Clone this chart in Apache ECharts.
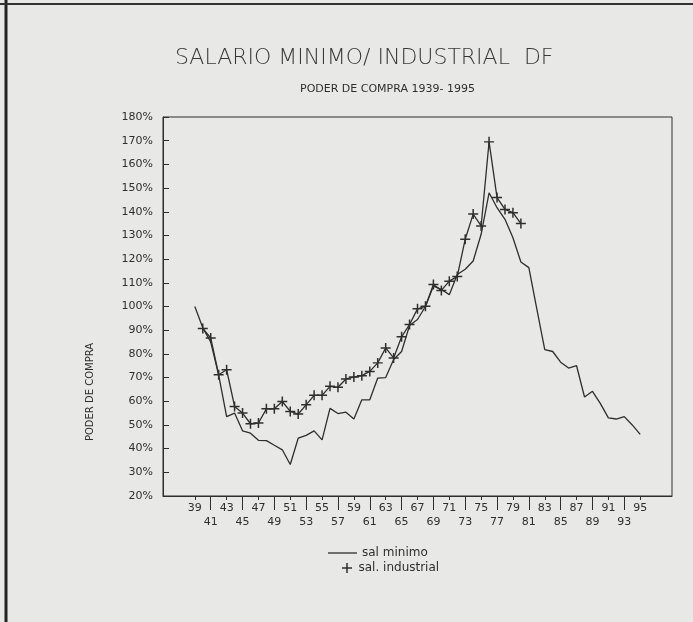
<!DOCTYPE html>
<html>
<head>
<meta charset="utf-8">
<script src="https://cdn.jsdelivr.net/npm/echarts@6/dist/echarts.min.js"></script>
<style>
  html, body { margin: 0; padding: 0; background: #e8e8e6; }
  #chart { width: 693px; height: 622px; }
</style>
</head>
<body>
<div id="chart"></div>
<script>
  // años 1939 - 1995
  var years = [1939, 1940, 1941, 1942, 1943, 1944, 1945, 1946, 1947, 1948, 1949, 1950, 1951, 1952, 1953, 1954, 1955, 1956, 1957, 1958, 1959, 1960, 1961, 1962, 1963, 1964, 1965, 1966, 1967, 1968, 1969, 1970, 1971, 1972, 1973, 1974, 1975, 1976, 1977, 1978, 1979, 1980, 1981, 1982, 1983, 1984, 1985, 1986, 1987, 1988, 1989, 1990, 1991, 1992, 1993, 1994, 1995]
  var salMinimo = [100, 91, 85, 71, 53.5, 55, 47.5, 46.5, 43.5, 43.4, 41.4, 39.5, 33.3, 44.4, 45.6, 47.5, 43.7, 57, 54.8, 55.4, 52.5, 60.6, 60.6, 69.8, 70, 77.6, 81, 92, 94.5, 100, 108.6, 107.2, 105, 113.5, 115.7, 119.2, 130.5, 148, 141.7, 136.8, 129, 118.8, 116.4, 99, 81.8, 81, 76.5, 74, 75, 61.8, 64.2, 59, 53, 52.5, 53.5, 50, 46]
  var salIndustrial = [null, 90.7, 86.7, 71.2, 73.3, 57.8, 55, 50.5, 50.8, 56.8, 56.8, 59.9, 55.7, 54.6, 58.5, 62.5, 62.5, 66.3, 65.9, 69.4, 70.2, 70.8, 72.6, 76.2, 82.5, 78.3, 87.2, 92.4, 99, 100.1, 109.3, 106.8, 110.7, 112.7, 128.4, 139, 134, 169.5, 146, 141, 139.6, 135, null, null, null, null, null, null, null, null, null, null, null, null, null, null, null]
  // etiquetas del eje x en dos renglones
  var topRowYears = [1939, 1943, 1947, 1951, 1955, 1959, 1963, 1967, 1971, 1975, 1979, 1983, 1987, 1991, 1995]
  var bottomRowYears = [1941, 1945, 1949, 1953, 1957, 1961, 1965, 1969, 1973, 1977, 1981, 1985, 1989, 1993]

  var ink = '#2e2e2e'
  var font = 'DejaVu Sans'
  var plusIcon = 'path://M4,0h1.4v4h4v1.4h-4v4h-1.4v-4h-4v-1.4h4z'

  function pairs(vals) {
    return years.map(function (y, i) { return [y, vals[i]] })
  }
  function shortYear(v) {
    return String(v).slice(2)
  }

  var chart = echarts.init(document.getElementById('chart'))
  chart.setOption({
    backgroundColor: '#e8e8e6',
    animation: false,
    title: [
      {
        text: 'SALARIO MINIMO/ INDUSTRIAL  DF',
        left: 170,
        top: 42,
        textStyle: { fontFamily: font, fontSize: 22, fontWeight: 200, color: '#383838' }
      },
      {
        text: 'PODER DE COMPRA 1939- 1995',
        left: 295,
        top: 79,
        textStyle: { fontFamily: font, fontSize: 11, fontWeight: 'normal', color: ink }
      }
    ],
    grid: {
      left: 163,
      right: 21,
      top: 117,
      bottom: 126,
      show: true,
      borderColor: ink,
      borderWidth: 1,
      backgroundColor: 'transparent'
    },
    legend: [
      {
        data: [{ name: 'sal minimo', icon: 'rect' }],
        left: 323,
        top: 542,
        itemWidth: 29,
        itemHeight: 1.3,
        textStyle: { fontFamily: font, fontSize: 12, color: ink }
      },
      {
        data: [{ name: 'sal. industrial', icon: plusIcon }],
        left: 337,
        top: 557,
        itemWidth: 13,
        itemHeight: 10,
        textStyle: { fontFamily: font, fontSize: 12, color: ink }
      }
    ],
    xAxis: [
      {
        type: 'value',
        min: 1935,
        max: 1999,
        position: 'bottom',
        axisLine: { show: true, lineStyle: { color: ink } },
        axisTick: { show: true, customValues: topRowYears, length: 4, lineStyle: { color: ink } },
        axisLabel: {
          customValues: topRowYears,
          formatter: shortYear,
          margin: 7,
          fontFamily: font,
          fontSize: 11,
          color: ink
        },
        splitLine: { show: false }
      },
      {
        type: 'value',
        min: 1935,
        max: 1999,
        position: 'bottom',
        offset: 0,
        axisLine: { show: false },
        axisTick: { show: true, customValues: bottomRowYears, length: 14, lineStyle: { color: ink } },
        axisLabel: {
          customValues: bottomRowYears,
          formatter: shortYear,
          margin: 21,
          fontFamily: font,
          fontSize: 11,
          color: ink
        },
        splitLine: { show: false }
      }
    ],
    yAxis: {
      type: 'value',
      min: 20,
      max: 180,
      interval: 10,
      axisLine: { show: true, lineStyle: { color: ink } },
      axisTick: { show: true, inside: true, length: 6, lineStyle: { color: ink } },
      axisLabel: {
        formatter: '{value}%',
        margin: 10,
        fontFamily: font,
        fontSize: 11,
        color: ink
      },
      splitLine: { show: false }
    },
    graphic: [
      { type: 'line', shape: { x1: 6, y1: 0, x2: 6, y2: 622 }, style: { stroke: '#222', lineWidth: 3 } },
      { type: 'line', shape: { x1: 0, y1: 4, x2: 693, y2: 4 }, style: { stroke: '#333', lineWidth: 2 } },
      // titulo del eje y, un poco abajo del centro como en el original
      {
        type: 'text',
        x: 90,
        y: 392,
        rotation: Math.PI / 2,
        style: {
          text: 'PODER DE COMPRA',
          fontFamily: font,
          fontSize: 10,
          fill: ink,
          align: 'center',
          verticalAlign: 'middle'
        }
      }
    ],
    series: [
      {
        name: 'sal minimo',
        type: 'line',
        data: pairs(salMinimo),
        symbol: 'none',
        lineStyle: { color: ink, width: 1.3 },
        itemStyle: { color: ink }
      },
      {
        name: 'sal. industrial',
        type: 'line',
        data: pairs(salIndustrial),
        symbol: plusIcon,
        symbolSize: 10,
        showAllSymbol: true,
        lineStyle: { color: ink, width: 1.3 },
        itemStyle: { color: ink }
      }
    ]
  })
</script>
</body>
</html>
